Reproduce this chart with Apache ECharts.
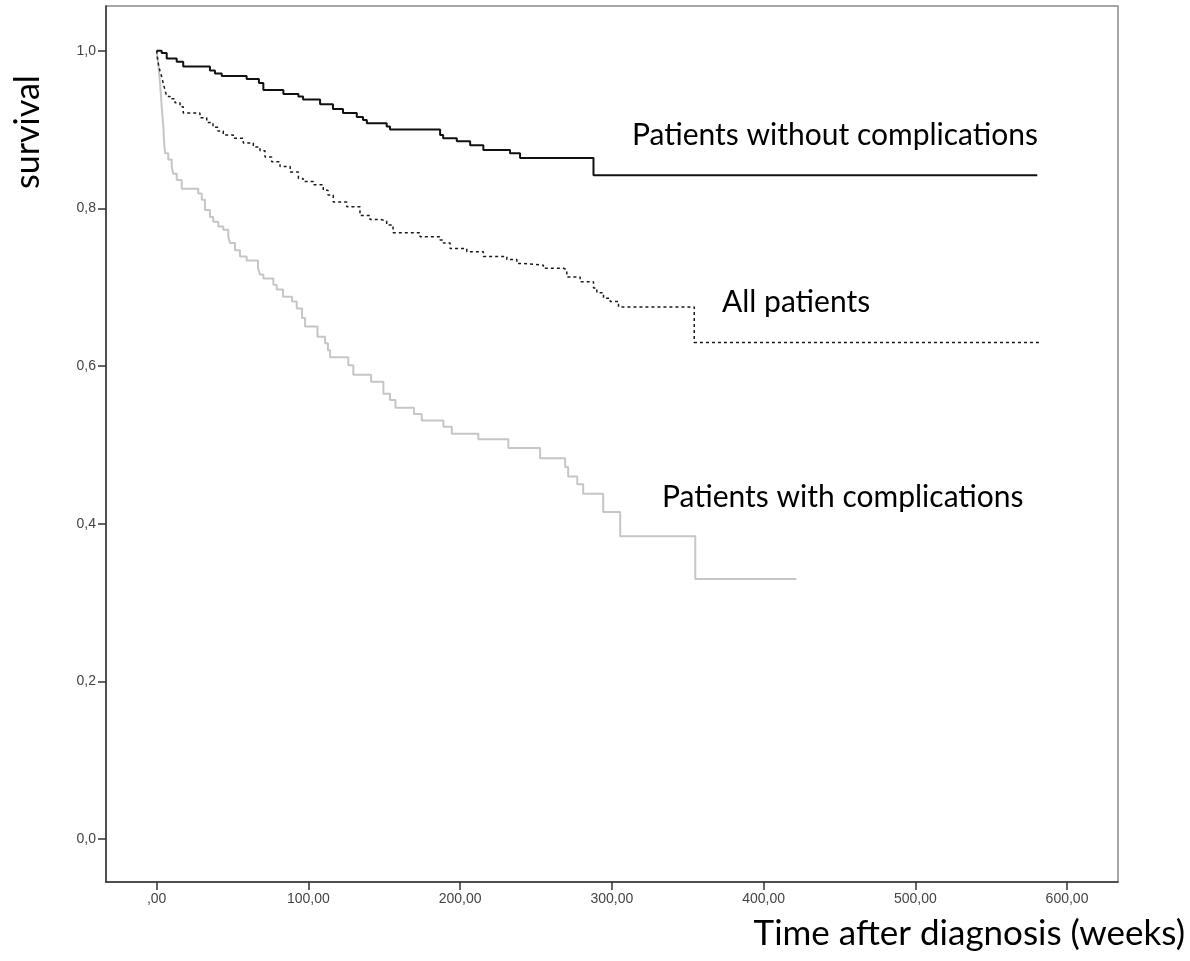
<!DOCTYPE html>
<html><head><meta charset="utf-8">
<script src="https://cdn.jsdelivr.net/npm/echarts@6/dist/echarts.min.js"></script>
<style>html,body{margin:0;padding:0;background:#fff}#c{width:1190px;height:961px}</style>
</head><body><div id="c"></div>
<script>
// Tick values and labels
const xTicks = [0, 100, 200, 300, 400, 500, 600];
const xTickLabels = [',00', '100,00', '200,00', '300,00', '400,00', '500,00', '600,00'];
const yTicks = [0, 0.2, 0.4, 0.6, 0.8, 1.0];
const yTickLabels = ['0,0', '0,2', '0,4', '0,6', '0,8', '1,0'];

// Patients without complications (time in weeks, survival)
const withoutTime = [0, 3.3, 6.6, 13.2, 17.5, 35.1, 38.4, 42.9, 59.3, 67.4, 70.3, 83.5, 93.4, 96.5, 107.7, 116.2, 122.8, 131.9, 136.0, 138.5, 151.6, 153.8, 186.8, 188.8, 197.8, 206.6, 215.3, 232.9, 239.5, 287.9, 580.4];
const withoutSurv = [1.0, 0.997, 0.990, 0.986, 0.980, 0.975, 0.971, 0.968, 0.964, 0.959, 0.950, 0.945, 0.942, 0.938, 0.932, 0.926, 0.921, 0.916, 0.912, 0.908, 0.904, 0.900, 0.893, 0.889, 0.885, 0.880, 0.874, 0.870, 0.864, 0.842, 0.842];

// All patients
const allTime = [0, 0.5, 1.2, 2.2, 3.3, 4.4, 5.5, 6.6, 8.8, 12.1, 15.4, 17.5, 28.5, 33.0, 37.1, 40.4, 43.9, 50.5, 57.1, 63.7, 68.1, 71.4, 75.8, 81.3, 88.0, 93.4, 96.5, 103.3, 109.8, 112.9, 116.4, 125.3, 134.0, 140.6, 147.2, 151.6, 155.8, 173.6, 186.8, 189.0, 193.4, 204.4, 215.3, 230.8, 237.4, 241.7, 254.9, 268.1, 270.3, 279.1, 287.9, 290.1, 294.5, 298.9, 304.4, 354.3, 582.4];
const allSurv = [1.0, 0.991, 0.982, 0.974, 0.967, 0.958, 0.950, 0.942, 0.939, 0.934, 0.929, 0.921, 0.915, 0.909, 0.903, 0.898, 0.893, 0.889, 0.883, 0.878, 0.873, 0.865, 0.859, 0.853, 0.846, 0.838, 0.834, 0.830, 0.823, 0.817, 0.808, 0.802, 0.791, 0.786, 0.784, 0.779, 0.769, 0.764, 0.760, 0.756, 0.749, 0.745, 0.739, 0.735, 0.730, 0.728, 0.724, 0.722, 0.713, 0.707, 0.699, 0.693, 0.686, 0.682, 0.675, 0.630, 0.630];

// Patients with complications
const withTime = [0, 0.5, 1.1, 1.5, 2.2, 2.8, 3.3, 3.8, 4.4, 4.8, 5.5, 7.6, 9.9, 10.9, 13.2, 16.5, 27.4, 29.7, 31.8, 35.1, 37.3, 40.6, 43.9, 47.2, 48.3, 51.6, 54.9, 59.3, 66.8, 68.1, 70.3, 76.9, 79.1, 83.3, 89.2, 92.3, 95.8, 97.8, 106.0, 111.0, 112.9, 114.3, 126.3, 129.6, 141.3, 149.4, 153.8, 157.4, 169.6, 174.7, 189.0, 194.5, 212.0, 231.8, 252.7, 269.2, 271.2, 277.2, 281.1, 294.3, 305.5, 355.0, 421.6];
const withSurv = [1.0, 0.991, 0.984, 0.973, 0.959, 0.944, 0.929, 0.917, 0.904, 0.887, 0.870, 0.862, 0.853, 0.844, 0.836, 0.825, 0.819, 0.811, 0.798, 0.789, 0.783, 0.777, 0.773, 0.764, 0.756, 0.747, 0.739, 0.734, 0.724, 0.716, 0.711, 0.703, 0.697, 0.688, 0.682, 0.673, 0.661, 0.650, 0.637, 0.629, 0.620, 0.611, 0.601, 0.589, 0.580, 0.565, 0.557, 0.547, 0.539, 0.531, 0.523, 0.514, 0.507, 0.496, 0.483, 0.472, 0.460, 0.450, 0.438, 0.415, 0.384, 0.330, 0.330];

const zip = (a, b) => a.map((v, i) => [v, b[i]]);
const ANN = 'Lato, "Open Sans", sans-serif';
const TICKFONT = '"Liberation Sans", Arial, sans-serif';

const chart = echarts.init(document.getElementById('c'), null, {renderer: 'canvas'});
chart.setOption({
  animation: false,
  backgroundColor: '#fff',
  grid: {left: 106, top: 6, right: 72, bottom: 79, show: true, borderColor: '#8a8a8a', borderWidth: 1.5, backgroundColor: 'transparent'},
  xAxis: {
    type: 'value', min: -33.4, max: 633.6,
    splitLine: {show: false},
    axisLine: {show: true, onZero: false, lineStyle: {color: '#333', width: 1.5}},
    axisTick: {show: true, customValues: xTicks, length: 8, lineStyle: {color: '#333', width: 1.5}},
    axisLabel: {customValues: xTicks, margin: 10, color: '#444', fontFamily: TICKFONT, fontSize: 14,
      formatter: v => xTickLabels[xTicks.indexOf(Math.round(v))] ?? ''}
  },
  yAxis: {
    type: 'value', min: -0.0545, max: 1.0567,
    splitLine: {show: false},
    axisLine: {show: true, onZero: false, lineStyle: {color: '#333', width: 1.5}},
    axisTick: {show: true, customValues: yTicks, length: 8, lineStyle: {color: '#333', width: 1.5}},
    axisLabel: {customValues: yTicks, margin: 10, color: '#444', fontFamily: TICKFONT, fontSize: 14,
      formatter: v => yTickLabels[yTicks.findIndex(t => Math.abs(t - v) < 1e-6)] ?? ''}
  },
  series: [
    {name: 'Patients with complications', type: 'line', step: 'end', showSymbol: false, data: zip(withTime, withSurv),
      lineStyle: {color: '#c6c6c6', width: 2}},
    {name: 'All patients', type: 'line', step: 'end', showSymbol: false, data: zip(allTime, allSurv),
      lineStyle: {color: '#1a1a1a', width: 1.5, type: [3, 3]}},
    {name: 'Patients without complications', type: 'line', step: 'end', showSymbol: false, data: zip(withoutTime, withoutSurv),
      lineStyle: {color: '#111', width: 2}}
  ],
  graphic: [
    {type: 'text', left: 632, top: 120, style: {text: 'Patients without complications', font: '30px ' + ANN, fill: '#000'}},
    {type: 'text', left: 722, top: 287, style: {text: 'All patients', font: '30px ' + ANN, fill: '#000'}},
    {type: 'text', left: 662, top: 482, style: {text: 'Patients with complications', font: '30px ' + ANN, fill: '#000'}},
    {type: 'text', right: 5, top: 916, style: {text: 'Time after diagnosis (weeks)', font: '35px ' + ANN, fill: '#000'}},
    {type: 'text', x: 11, y: 189, rotation: Math.PI / 2, style: {text: 'survival', font: '34px ' + ANN, fill: '#000'}}
  ]
});
</script>
</body></html>
